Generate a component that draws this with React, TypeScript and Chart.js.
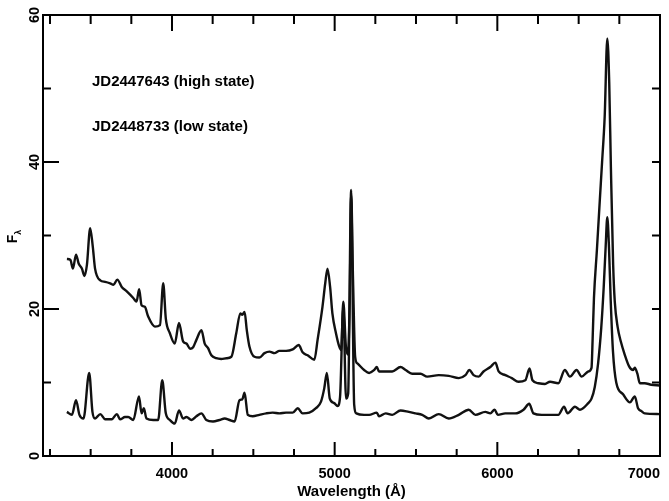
import { useEffect, useRef } from 'react'
import { Chart, registerables } from 'chart.js'

Chart.register(...registerables)

// JD2447643 (high state): wavelength (Å) and F_lambda
const highWave = [
  3354, 3375, 3391, 3410, 3426, 3446, 3462, 3477, 3497, 3513, 3527, 3559, 3589, 3620, 3640,
  3664, 3691, 3722, 3762, 3782, 3798, 3813, 3833, 3853, 3895, 3926, 3946, 3962, 3987, 4017,
  4043, 4068, 4089, 4111, 4130, 4150, 4181, 4201, 4221, 4242, 4272, 4303, 4334, 4365, 4395,
  4420, 4432, 4446, 4460, 4476, 4507, 4537, 4569, 4599, 4630, 4660, 4701, 4742, 4779, 4803,
  4834, 4875, 4895, 4925, 4942, 4956, 4972, 4986, 5008, 5028, 5040, 5053, 5069, 5081, 5093,
  5101, 5113, 5126, 5140, 5181, 5212, 5243, 5259, 5273, 5314, 5354, 5405, 5436, 5476, 5528,
  5569, 5640, 5701, 5763, 5804, 5828, 5854, 5885, 5915, 5957, 5988, 6008, 6049, 6089, 6130,
  6172, 6198, 6216, 6253, 6293, 6324, 6375, 6415, 6446, 6487, 6518, 6559, 6579, 6586, 6594,
  6612, 6630, 6644, 6660, 6676, 6688, 6698, 6712, 6722, 6740, 6760, 6783, 6810, 6835, 6845,
  6861, 6876, 6906, 6946, 6998,
]
const highFlux = [
  26.8, 26.7, 25.5, 27.4, 26.2, 25.5, 24.5, 26.0, 31.0, 28.5, 25.5, 23.9, 23.7, 23.5, 23.3,
  24.0, 23.0, 22.4, 21.5, 21.0, 22.7, 20.5, 20.3, 19.0, 17.6, 17.8, 23.5, 18.7, 16.7, 15.3,
  18.1, 15.6, 15.3, 14.6, 14.8, 15.8, 17.1, 15.3, 14.7, 13.7, 13.3, 13.2, 13.3, 13.5, 16.7,
  19.4, 19.2, 19.6, 17.1, 14.9, 13.5, 13.4, 14.0, 14.2, 14.0, 14.3, 14.3, 14.5, 15.1, 14.1,
  13.7, 13.1, 15.8, 20.3, 23.5, 25.5, 23.0, 19.4, 16.7, 14.9, 14.4, 21.0, 14.9, 13.8, 21.7,
  36.2, 23.9, 13.5, 12.6, 11.7, 11.3, 11.7, 12.1, 11.5, 11.5, 11.5, 12.1, 11.7, 11.2, 11.2,
  10.8, 11.0, 10.9, 10.6, 11.0, 11.7, 11.0, 10.8, 11.5, 12.1, 12.7, 11.5, 11.0, 10.6, 10.1,
  10.3, 11.9, 10.3, 9.9, 9.8, 10.1, 9.9, 11.7, 10.8, 11.7, 10.8, 11.5, 12.0, 16.0, 21.5,
  28.0, 34.8, 40.0, 46.2, 56.8, 50.7, 39.4, 26.0, 21.0, 17.5, 15.5, 13.8, 12.2, 11.7, 12.0,
  11.2, 9.9, 9.9, 9.7, 9.6,
]

// JD2448733 (low state)
const lowWave = [
  3354, 3385, 3410, 3431, 3456, 3491, 3511, 3527, 3559, 3589, 3630, 3661, 3681, 3711, 3731,
  3762, 3797, 3813, 3827, 3843, 3885, 3915, 3940, 3962, 3987, 4017, 4043, 4068, 4089, 4120,
  4150, 4181, 4211, 4252, 4292, 4324, 4354, 4385, 4415, 4432, 4446, 4466, 4496, 4537, 4579,
  4619, 4660, 4701, 4742, 4773, 4803, 4844, 4885, 4916, 4936, 4952, 4970, 4997, 5018, 5033,
  5053, 5070, 5083, 5101, 5120, 5133, 5181, 5212, 5259, 5273, 5314, 5354, 5405, 5456, 5498,
  5538, 5579, 5640, 5701, 5763, 5824, 5865, 5926, 5957, 5983, 6003, 6049, 6110, 6161, 6196,
  6222, 6273, 6324, 6375, 6410, 6432, 6477, 6508, 6559, 6579, 6599, 6619, 6639, 6654, 6666,
  6676, 6687, 6697, 6711, 6731, 6773, 6815, 6845, 6865, 6886, 6906, 6998,
]
const lowFlux = [
  6.0, 5.6, 7.6, 5.6, 5.1, 11.3, 6.0, 5.1, 5.7, 5.0, 5.0, 5.7, 5.0, 5.3, 5.3,
  4.9, 8.1, 5.8, 6.5, 5.1, 4.9, 4.9, 10.3, 5.8, 4.9, 4.4, 6.2, 5.1, 5.3, 4.9,
  5.4, 5.8, 4.9, 4.7, 4.9, 5.1, 4.9, 4.7, 7.6, 7.7, 8.6, 5.6, 5.4, 5.6, 5.8,
  5.9, 5.8, 5.9, 5.9, 6.5, 5.8, 5.9, 6.5, 7.4, 9.2, 11.3, 7.8, 7.2, 6.8, 8.0,
  20.3, 7.8, 8.5, 35.5, 7.0, 5.8, 5.6, 5.6, 5.9, 5.4, 5.8, 5.6, 6.2, 6.0, 5.8,
  5.6, 5.1, 5.7, 5.1, 5.6, 6.3, 5.6, 6.0, 5.8, 6.3, 5.6, 5.8, 5.8, 6.3, 7.1,
  5.8, 5.6, 5.6, 5.6, 6.7, 5.8, 6.7, 6.3, 7.2, 7.8, 9.4, 12.5, 17.5, 23.0, 28.5,
  32.5, 28.0, 21.2, 14.2, 10.0, 8.4, 7.3, 8.1, 6.5, 6.1, 5.8, 5.7,
]

const seriesLabels = ['JD2447643 (high state)', 'JD2448733 (low state)']

// axis ticks
const xTickMarks = [
  3250, 3500, 3750, 4000, 4250, 4500, 4750, 5000, 5250, 5500, 5750, 6000, 6250, 6500, 6750,
]
const xLabelTicks = [3250, 4000, 5000, 6000, 7000]
const xTickLabels = ['', '4000', '5000', '6000', '7000']
const yTickMarks = [10, 20, 30, 40, 50]
const yLabelTicks = [0, 20, 40, 60]

const FONT = '"Liberation Sans", Arial, Helvetica, sans-serif'

const framePlugin = {
  id: 'frame',
  afterDatasetsDraw(chart: Chart) {
    const { ctx, chartArea, scales } = chart
    const { left, right, top, bottom } = chartArea
    const x = scales.x
    const y = scales.y
    ctx.save()
    ctx.strokeStyle = '#000'
    ctx.lineWidth = 2
    ctx.strokeRect(left, top, right - left, bottom - top)

    ctx.beginPath()
    xTickMarks.forEach(v => {
      const px = x.getPixelForValue(v)
      const major = v % 1000 === 0
      ctx.moveTo(px, bottom)
      ctx.lineTo(px, bottom - (major ? 14 : 7))
      ctx.moveTo(px, top)
      ctx.lineTo(px, top + (major ? 16 : 9))
    })
    yTickMarks.forEach(v => {
      const py = y.getPixelForValue(v)
      const major = v % 20 === 0
      ctx.moveTo(left, py)
      ctx.lineTo(left + (major ? 16 : 8), py)
      ctx.moveTo(right, py)
      ctx.lineTo(right - 8, py)
    })
    ctx.stroke()

    // series captions
    ctx.fillStyle = '#000'
    ctx.font = `bold 15px ${FONT}`
    ctx.textAlign = 'left'
    ctx.textBaseline = 'middle'
    ctx.fillText(seriesLabels[0], left + 49, top + 67)
    ctx.fillText(seriesLabels[1], left + 49, top + 112)

    // y axis title: F with subscript lambda
    ctx.translate(13, 237)
    ctx.rotate(-Math.PI / 2)
    ctx.textBaseline = 'alphabetic'
    ctx.font = `bold 14px ${FONT}`
    const fw = ctx.measureText('F').width
    ctx.fillText('F', -fw / 2 - 2, 4)
    ctx.font = `bold 9px ${FONT}`
    ctx.fillText('λ', fw / 2 - 2, 8)
    ctx.restore()
  },
}

export default function App() {
  const canvasRef = useRef<HTMLCanvasElement>(null)
  const chartRef = useRef<Chart | null>(null)

  useEffect(() => {
    if (!canvasRef.current) return
    if (chartRef.current) chartRef.current.destroy()

    const line = {
      borderColor: '#111',
      borderWidth: 2.4,
      pointRadius: 0,
      cubicInterpolationMode: 'monotone' as const,
      borderJoinStyle: 'round' as const,
      fill: false,
    }

    chartRef.current = new Chart(canvasRef.current, {
      type: 'line',
      data: {
        datasets: [
          { label: seriesLabels[0], data: highWave.map((w, i) => ({ x: w, y: highFlux[i] })), ...line },
          { label: seriesLabels[1], data: lowWave.map((w, i) => ({ x: w, y: lowFlux[i] })), ...line },
        ],
      },
      options: {
        responsive: true,
        maintainAspectRatio: false,
        animation: false,
        layout: { padding: { top: 15, right: 7, left: 0, bottom: 0 } },
        plugins: {
          legend: { display: false },
          tooltip: { enabled: false },
        },
        scales: {
          x: {
            type: 'linear',
            min: 3207,
            max: 7000,
            afterBuildTicks: (scale) => {
              scale.ticks = xLabelTicks.map(v => ({ value: v }))
            },
            afterFit: (scale) => {
              scale.height = 45
            },
            grid: { display: false, drawTicks: false },
            border: { display: false },
            ticks: {
              autoSkip: false,
              maxRotation: 0,
              align: 'inner',
              padding: 9,
              color: '#000',
              font: { family: FONT, size: 14.5, weight: 'bold' },
              callback: (v) => xTickLabels[xLabelTicks.indexOf(Number(v))] ?? '',
            },
            title: {
              display: true,
              text: 'Wavelength (Å)',
              color: '#000',
              padding: 0,
              font: { family: FONT, size: 15, weight: 'bold' },
            },
          },
          y: {
            min: 0,
            max: 60,
            afterBuildTicks: (scale) => {
              scale.ticks = yLabelTicks.map(v => ({ value: v }))
            },
            afterFit: (scale) => {
              scale.width = 43
            },
            grid: { display: false, drawTicks: false },
            border: { display: false },
            ticks: {
              autoSkip: false,
              minRotation: 90,
              maxRotation: 90,
              crossAlign: 'center',
              padding: 0,
              color: '#000',
              font: { family: FONT, size: 14.5, weight: 'bold' },
            },
          },
        },
      },
      plugins: [framePlugin],
    })

    return () => {
      if (chartRef.current) {
        chartRef.current.destroy()
        chartRef.current = null
      }
    }
  }, [])

  return (
    <div style={{ position: 'fixed', left: 0, top: 0, width: 669, height: 501, background: '#fff' }}>
      <canvas ref={canvasRef} />
    </div>
  )
}
